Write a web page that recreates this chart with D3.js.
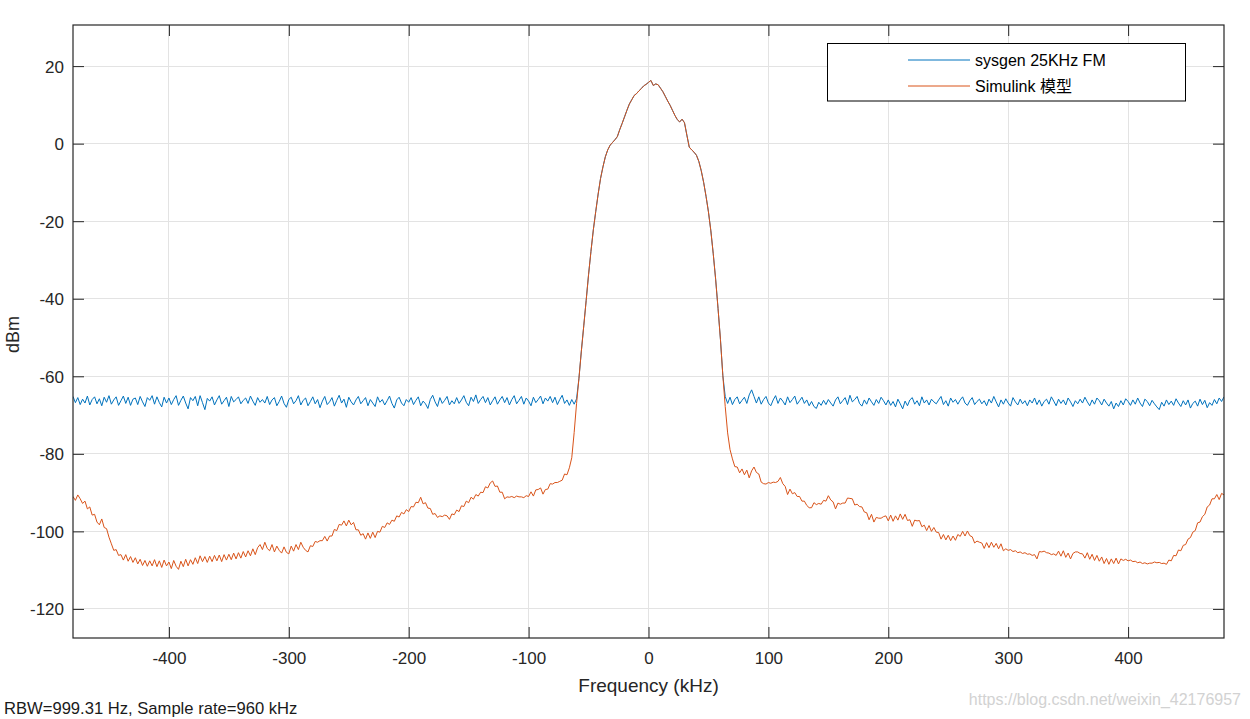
<!DOCTYPE html>
<html>
<head>
<meta charset="utf-8">
<script src="https://cdn.jsdelivr.net/npm/d3@7/dist/d3.min.js"></script>
<style>
  html, body { margin: 0; padding: 0; background: #fff; }
  svg { display: block; font-family: "Liberation Sans", Arial, sans-serif; }
</style>
</head>
<body>
<svg id="chart" width="1250" height="719"></svg>
<script>
// ---------------- DATA ----------------
const seriesNames = ["sysgen 25KHz FM", "Simulink 模型"];
const freqStartKHz = -480, freqEndKHz = 480, freqStepKHz = 2;
const xTicks = [-400, -300, -200, -100, 0, 100, 200, 300, 400];
const yTicks = [-120, -100, -80, -60, -40, -20, 0, 20];
const xDomain = [-480, 480];
const yDomain = [-127.5, 30.6];

// sysgen 25KHz FM (dBm), one value every 2 kHz from -480 to 480
const sysgenDbm = [
 -65.2,-66.8,-65.5,-67.3,-65.9,-66.9,-65.1,-67.4,-66.0,-65.3,-67.1,-65.8,-67.6,-65.4,-66.7,-65.0,-67.2,-66.1,-65.3,-67.5,
 -66.3,-65.1,-67.0,-65.4,-67.5,-65.9,-65.6,-67.3,-65.2,-66.6,-67.8,-65.5,-66.2,-65.0,-67.2,-65.3,-66.8,-67.9,-65.4,-66.9,
 -65.6,-67.3,-66.0,-65.0,-67.5,-66.2,-65.1,-66.9,-68.4,-65.5,-66.3,-65.2,-67.6,-65.0,-66.8,-68.6,-65.7,-66.4,-65.3,-67.4,
 -66.1,-65.0,-67.2,-66.3,-65.4,-67.8,-65.2,-66.6,-66.0,-65.3,-67.1,-66.2,-65.6,-67.0,-65.1,-66.4,-67.5,-65.5,-66.7,-66.0,
 -66.9,-65.2,-67.3,-66.1,-65.5,-67.6,-66.5,-65.1,-67.0,-68.0,-66.0,-65.4,-67.1,-66.3,-65.0,-67.4,-66.2,-65.6,-67.6,-66.5,
 -65.3,-67.1,-66.0,-68.1,-66.4,-65.2,-67.3,-66.6,-65.5,-67.7,-66.2,-64.9,-66.9,-65.9,-68.0,-65.4,-66.6,-67.4,-66.1,-65.2,
 -67.1,-66.3,-65.5,-67.6,-66.0,-66.9,-67.8,-65.3,-66.7,-66.0,-67.4,-66.3,-65.1,-67.0,-68.2,-66.1,-65.4,-66.9,-67.6,-66.0,
 -66.7,-65.5,-67.3,-66.2,-65.3,-67.6,-66.4,-67.1,-68.3,-66.0,-64.9,-66.6,-67.8,-65.5,-67.0,-66.2,-65.2,-67.4,-66.3,-67.1,
 -65.5,-67.0,-66.1,-65.0,-66.7,-67.6,-65.4,-66.5,-64.8,-67.0,-66.0,-65.2,-66.8,-65.5,-67.4,-66.3,-65.3,-67.2,-66.1,-65.2,
 -66.8,-65.5,-67.4,-66.0,-65.0,-67.1,-66.2,-65.2,-67.2,-65.6,-66.4,-67.6,-65.4,-66.8,-66.0,-65.1,-67.1,-65.6,-66.4,-65.2,
 -66.8,-65.4,-67.3,-66.0,-64.9,-67.0,-66.1,-67.5,-66.0,-67.2,-65.8,-60.5,-53.5,-47.0,-40.5,-33.8,-27.8,-22.2,-17.5,-13.0,
 -9.0,-6.0,-3.4,-1.6,-0.4,0.3,1.0,1.8,3.6,5.2,6.9,8.6,10.2,11.3,12.4,12.9,13.6,14.2,14.9,15.3,
 15.8,16.3,15.0,15.4,15.2,14.3,13.4,12.2,11.0,9.9,8.6,7.3,6.2,5.6,6.3,5.4,2.2,-0.9,-1.6,-2.2,
 -3.0,-4.6,-7.0,-10.0,-13.6,-17.6,-22.5,-28.4,-35.0,-42.5,-50.5,-59.8,-65.2,-67.0,-65.4,-67.3,-66.0,-65.3,-67.1,-66.2,
 -65.4,-67.0,-64.8,-63.5,-65.2,-66.9,-65.3,-67.2,-66.0,-65.2,-66.9,-67.6,-66.1,-65.0,-67.0,-65.6,-66.4,-67.4,-65.3,-66.8,
 -66.0,-65.1,-67.2,-66.3,-65.4,-67.0,-66.1,-67.6,-66.5,-67.8,-68.3,-66.7,-67.5,-66.2,-67.3,-66.0,-66.9,-67.7,-66.1,-65.3,
 -67.1,-66.3,-65.5,-67.3,-64.9,-66.6,-66.0,-65.2,-67.0,-67.7,-66.1,-67.2,-65.6,-66.6,-67.5,-66.0,-67.0,-65.4,-66.3,-67.4,
 -66.1,-67.5,-66.5,-67.9,-65.9,-67.1,-68.4,-66.4,-67.6,-66.1,-65.5,-67.2,-66.3,-67.6,-65.3,-66.9,-66.1,-67.4,-65.9,-66.6,
 -67.1,-66.1,-65.2,-67.3,-66.3,-67.7,-65.6,-66.7,-66.0,-67.2,-66.1,-65.3,-66.9,-67.5,-66.3,-65.5,-67.3,-66.5,-65.9,-67.1,
 -66.3,-67.6,-65.9,-66.9,-65.2,-66.6,-67.9,-66.1,-67.2,-65.8,-66.9,-67.7,-65.5,-66.6,-67.4,-65.9,-67.1,-66.3,-67.6,-66.1,
 -66.9,-65.6,-67.3,-66.1,-67.7,-66.5,-65.9,-67.2,-65.3,-66.4,-67.6,-65.9,-67.0,-66.1,-67.4,-65.6,-66.6,-67.8,-66.3,-67.1,
 -65.9,-66.9,-65.4,-66.6,-67.6,-66.1,-67.2,-65.6,-66.3,-67.4,-65.9,-66.9,-67.7,-66.5,-68.4,-66.9,-67.8,-66.3,-67.4,-65.8,
 -66.5,-67.5,-66.1,-67.2,-65.6,-66.9,-67.8,-65.9,-66.5,-67.6,-66.2,-67.1,-67.9,-68.6,-66.7,-67.7,-66.1,-67.3,-66.4,-67.5,
 -65.8,-66.9,-67.8,-66.3,-67.4,-66.1,-68.2,-67.0,-66.4,-67.7,-65.9,-67.3,-66.2,-68.1,-66.8,-67.5,-66.0,-67.1,-65.6,-66.5,
 -65.3
];

// Simulink 模型 (dBm), one value every 2 kHz from -480 to 480
const simulinkDbm = [
 -91.0,-92.0,-90.6,-91.6,-92.8,-92.2,-94.2,-93.7,-95.8,-95.6,-97.6,-98.3,-96.8,-99.0,-99.3,-101.5,-103.2,-104.9,-104.7,-106.2,
 -106.0,-107.4,-106.0,-107.7,-106.5,-108.0,-106.8,-108.4,-107.2,-108.8,-107.5,-109.0,-107.6,-108.9,-107.3,-109.1,-107.6,-109.3,-107.4,-108.9,
 -107.9,-109.6,-107.5,-109.0,-109.8,-107.7,-109.1,-107.2,-108.9,-107.3,-108.5,-106.8,-108.3,-106.3,-107.8,-106.5,-108.0,-106.4,-107.8,-106.2,
 -107.6,-106.1,-107.8,-106.0,-107.4,-105.9,-107.3,-105.6,-107.1,-105.5,-106.9,-105.2,-106.6,-105.0,-106.3,-104.5,-106.0,-104.2,-103.4,-104.7,
 -102.8,-104.4,-105.0,-103.4,-105.3,-103.8,-104.9,-105.6,-104.0,-105.4,-105.8,-103.8,-105.1,-103.4,-104.7,-102.8,-104.1,-104.9,-105.3,-103.7,
 -103.9,-102.6,-102.8,-102.4,-102.4,-101.3,-102.5,-101.2,-101.2,-99.5,-99.8,-98.2,-98.4,-97.3,-98.6,-97.1,-98.3,-97.7,-99.6,-99.6,
 -101.0,-100.6,-102.0,-100.4,-101.8,-100.2,-101.6,-100.0,-100.2,-98.7,-99.0,-97.8,-98.2,-97.1,-97.4,-96.0,-96.3,-95.1,-95.5,-94.4,
 -94.9,-93.6,-93.7,-92.5,-92.6,-91.2,-92.9,-92.6,-94.0,-94.1,-95.6,-95.4,-96.4,-96.0,-96.2,-95.8,-96.0,-96.9,-95.5,-95.7,
 -94.5,-94.9,-93.4,-93.6,-92.2,-92.6,-91.2,-91.7,-90.5,-90.9,-89.9,-90.0,-88.5,-88.8,-87.5,-87.0,-88.4,-88.3,-89.9,-89.9,
 -91.6,-91.1,-91.2,-91.0,-91.3,-90.9,-91.1,-91.1,-91.3,-90.8,-91.0,-89.8,-90.9,-89.3,-89.2,-88.8,-90.4,-89.2,-89.1,-87.7,
 -87.8,-87.4,-87.4,-87.1,-86.8,-85.2,-85.4,-83.6,-81.0,-74.5,-67.0,-60.5,-53.5,-47.0,-40.5,-33.8,-27.8,-22.2,-17.5,-13.0,
 -9.0,-6.0,-3.4,-1.6,-0.4,0.3,1.0,1.8,3.6,5.2,6.9,8.6,10.2,11.3,12.4,12.9,13.6,14.2,14.9,15.3,
 15.8,16.3,15.0,15.4,15.2,14.3,13.4,12.2,11.0,9.9,8.6,7.3,6.2,5.6,6.3,5.4,2.2,-0.9,-1.6,-2.2,
 -3.0,-4.6,-7.0,-10.0,-13.6,-17.6,-22.5,-28.4,-35.0,-42.5,-50.5,-59.8,-67.8,-74.6,-78.9,-81.3,-83.3,-83.4,-84.9,-83.9,
 -85.4,-84.2,-86.2,-84.4,-83.4,-84.8,-85.2,-87.3,-87.7,-87.8,-87.4,-87.6,-87.3,-87.4,-87.1,-86.1,-87.7,-88.4,-90.5,-89.1,
 -90.3,-90.0,-91.0,-91.0,-92.2,-92.2,-93.3,-93.9,-93.9,-92.6,-93.1,-92.8,-93.0,-92.0,-92.2,-90.8,-91.9,-92.4,-94.2,-92.7,
 -93.0,-92.7,-92.7,-91.4,-91.5,-91.6,-93.2,-93.0,-93.6,-93.7,-95.0,-95.2,-97.0,-95.6,-97.6,-96.4,-96.6,-96.6,-96.2,-96.0,
 -97.3,-95.8,-97.4,-96.0,-97.1,-95.5,-96.9,-95.6,-97.2,-97.0,-98.7,-97.1,-97.3,-97.2,-98.8,-98.4,-99.8,-98.5,-100.0,-99.0,
 -100.2,-100.3,-102.0,-100.8,-102.2,-101.0,-102.4,-101.2,-102.3,-100.8,-101.3,-100.0,-101.2,-99.9,-101.1,-101.4,-103.0,-102.5,-102.8,-103.0,
 -104.4,-102.9,-104.2,-102.8,-104.1,-103.1,-104.5,-103.2,-105.0,-104.5,-104.9,-104.7,-105.2,-105.0,-105.5,-105.3,-105.7,-105.5,-105.9,-105.8,
 -106.2,-106.0,-107.1,-105.2,-105.3,-105.1,-105.5,-105.6,-106.0,-105.8,-106.2,-105.1,-106.4,-105.0,-106.7,-105.6,-107.1,-105.7,-105.3,-105.3,
 -105.7,-105.8,-106.9,-105.5,-107.2,-105.9,-107.5,-106.2,-107.7,-106.6,-108.3,-107.0,-108.5,-107.1,-108.3,-106.9,-108.4,-107.1,-107.5,-107.2,
 -107.6,-107.4,-107.8,-107.7,-108.1,-107.9,-108.3,-108.1,-108.4,-108.2,-108.2,-107.9,-108.1,-108.0,-108.3,-108.2,-108.5,-107.4,-107.6,-106.2,
 -106.3,-104.8,-105.0,-103.6,-103.4,-102.0,-101.6,-100.2,-99.8,-97.8,-97.6,-96.2,-95.6,-93.7,-93.2,-91.6,-91.6,-90.5,-91.8,-90.2,
 -90.6
];

const xLabel = "Frequency (kHz)";
const yLabel = "dBm";
const footnote = "RBW=999.31 Hz, Sample rate=960 kHz";
const watermark = "https://blog.csdn.net/weixin_42176957";
const colors = ["#0072BD", "#D95319"];

// ---------------- CHART ----------------
const freqs = d3.range(freqStartKHz, freqEndKHz + freqStepKHz / 2, freqStepKHz);
const series = [sysgenDbm, simulinkDbm].map((vals, i) => ({
  name: seriesNames[i], color: colors[i],
  points: vals.map((v, j) => [freqs[j], v])
}));

const svg = d3.select("#chart");
const L = 73, T = 25, R = 1224, B = 638;
const x = d3.scaleLinear().domain(xDomain).range([L, R]);
const y = d3.scaleLinear().domain(yDomain).range([B, T]);
const axisColor = "#262626";
const tickLen = 11;
const fmt = d => String(d);

// grid
const grid = svg.append("g");
grid.selectAll("line.gx").data(xTicks).join("line")
  .attr("x1", d => x(d)).attr("x2", d => x(d)).attr("y1", T).attr("y2", B)
  .attr("stroke", "#e3e3e3").attr("stroke-width", 1).attr("shape-rendering", "crispEdges");
grid.selectAll("line.gy").data(yTicks).join("line")
  .attr("y1", d => y(d)).attr("y2", d => y(d)).attr("x1", L).attr("x2", R)
  .attr("stroke", "#e3e3e3").attr("stroke-width", 1).attr("shape-rendering", "crispEdges");

// lines
svg.append("clipPath").attr("id", "clip").append("rect")
  .attr("x", L).attr("y", T).attr("width", R - L).attr("height", B - T);
const line = d3.line().x(d => x(d[0])).y(d => y(d[1]));
svg.append("g").attr("clip-path", "url(#clip)")
  .selectAll("path").data(series).join("path")
  .attr("d", d => line(d.points))
  .attr("fill", "none").attr("stroke", d => d.color).attr("stroke-width", 1)
  .attr("stroke-linejoin", "round");

// axes (ticks inside, box)
const fontSize = 17;
const axB = svg.append("g").attr("transform", `translate(0,${B})`)
  .call(d3.axisBottom(x).tickValues(xTicks).tickFormat(fmt).tickSizeInner(-tickLen).tickSizeOuter(0).tickPadding(14));
const axT = svg.append("g").attr("transform", `translate(0,${T})`)
  .call(d3.axisTop(x).tickValues(xTicks).tickSizeInner(-tickLen).tickSizeOuter(0).tickFormat(""));
const axL = svg.append("g").attr("transform", `translate(${L},0)`)
  .call(d3.axisLeft(y).tickValues(yTicks).tickFormat(fmt).tickSizeInner(-tickLen).tickSizeOuter(0).tickPadding(9));
const axR = svg.append("g").attr("transform", `translate(${R},0)`)
  .call(d3.axisRight(y).tickValues(yTicks).tickSizeInner(-tickLen).tickSizeOuter(0).tickFormat(""));
[axB, axT, axL, axR].forEach(g => {
  g.select(".domain").remove();
  g.selectAll(".tick line").attr("stroke", axisColor).attr("stroke-width", 1);
  g.selectAll("text").attr("fill", axisColor).style("font-size", fontSize + "px")
    .style("font-family", '"Liberation Sans", Arial, sans-serif');
});
axL.selectAll("text").attr("dy", "0.35em");
axB.selectAll("text").attr("dy", "0.71em");

svg.append("rect").attr("x", L).attr("y", T).attr("width", R - L).attr("height", B - T)
  .attr("fill", "none").attr("stroke", axisColor).attr("stroke-width", 1.2);

// labels
svg.append("text").attr("x", (L + R) / 2).attr("y", 692).attr("text-anchor", "middle")
  .attr("fill", axisColor).style("font-size", "19px").text(xLabel);
svg.append("text").attr("transform", `translate(19,${(T + B) / 2 + 3}) rotate(-90)`)
  .attr("text-anchor", "middle").attr("fill", axisColor).style("font-size", "18px").text(yLabel);
svg.append("text").attr("x", 4).attr("y", 714).attr("fill", "#1a1a1a")
  .style("font-size", "16.6px").text(footnote);
svg.append("text").attr("x", 1241).attr("y", 705).attr("text-anchor", "end")
  .attr("fill", "#d2d2d2").style("font-size", "16px").text(watermark);

// legend
const lg = svg.append("g");
lg.append("rect").attr("x", 827.5).attr("y", 43.5).attr("width", 358).attr("height", 57.5)
  .attr("fill", "#fff").attr("stroke", "#000").attr("stroke-width", 1);
series.forEach((s, i) => {
  const yy = 60 + i * 26;
  lg.append("line").attr("x1", 908).attr("x2", 970).attr("y1", yy).attr("y2", yy)
    .attr("stroke", s.color).attr("stroke-width", 1);
  lg.append("text").attr("x", 975).attr("y", yy).attr("dy", "0.35em")
    .attr("fill", "#000").style("font-size", "16px")
    .style("font-family", '"Liberation Sans", Arial, "Noto Sans CJK SC", sans-serif')
    .text(s.name);
});
</script>
</body>
</html>
